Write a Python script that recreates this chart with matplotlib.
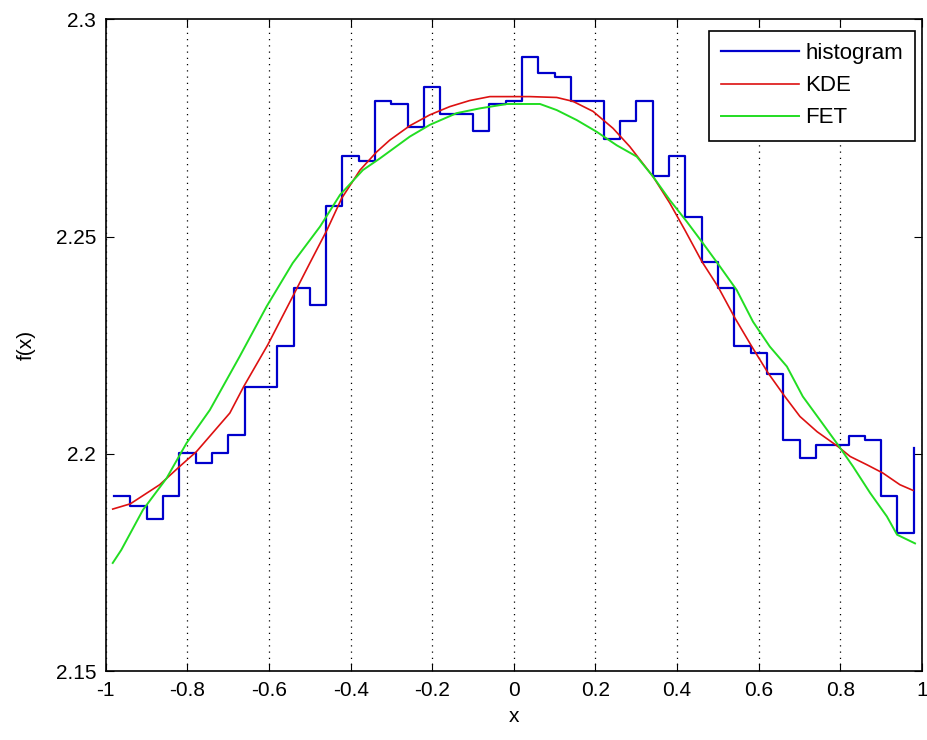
import matplotlib.pyplot as plt
import numpy as np

# histogram bin centres and heights (drawn as stairs, MATLAB style)
hist_x = np.round(np.arange(-0.98, 0.99, 0.04), 2)
hist_y = [2.1902, 2.1880, 2.1850, 2.1902, 2.2003, 2.1980, 2.2003, 2.2043, 2.2153, 2.2153,
          2.2248, 2.2381, 2.2342, 2.2571, 2.2686, 2.2673, 2.2813, 2.2804, 2.2751, 2.2843,
          2.2782, 2.2782, 2.2743, 2.2805, 2.2812, 2.2914, 2.2876, 2.2866, 2.2812, 2.2812,
          2.2725, 2.2765, 2.2813, 2.2640, 2.2686, 2.2546, 2.2442, 2.2381, 2.2249, 2.2232,
          2.2184, 2.2031, 2.1990, 2.2021, 2.2021, 2.2042, 2.2031, 2.1902, 2.1819, 2.2013]

kde_x = [-0.983, -0.94, -0.868, -0.819, -0.778, -0.696, -0.662, -0.603, -0.542, -0.50,
         -0.458, -0.422, -0.377, -0.336, -0.304, -0.255, -0.206, -0.157, -0.108, -0.059,
         -0.010, 0.039, 0.105, 0.145, 0.194, 0.243, 0.284, 0.341, 0.382, 0.419,
         0.461, 0.50, 0.542, 0.583, 0.623, 0.664, 0.701, 0.743, 0.794, 0.824,
         0.865, 0.904, 0.946, 0.978]
kde_y = [2.1873, 2.1885, 2.1929, 2.1971, 2.2005, 2.2094, 2.2155, 2.2251, 2.2362, 2.2439,
         2.2515, 2.2588, 2.2653, 2.2695, 2.2722, 2.2755, 2.2780, 2.2799, 2.2813, 2.2822,
         2.2822, 2.2822, 2.2820, 2.2811, 2.2788, 2.2749, 2.2707, 2.2638, 2.2577, 2.2515,
         2.2442, 2.2385, 2.2312, 2.2247, 2.2186, 2.2132, 2.2086, 2.2051, 2.2017, 2.1994,
         2.1975, 2.1956, 2.1929, 2.1916]

fet_x = [-0.983, -0.962, -0.909, -0.851, -0.802, -0.745, -0.672, -0.606, -0.542, -0.475,
         -0.426, -0.370, -0.328, -0.255, -0.206, -0.140, -0.083, -0.017, 0.064, 0.105,
         0.154, 0.203, 0.252, 0.301, 0.341, 0.382, 0.424, 0.463, 0.505, 0.546,
         0.586, 0.627, 0.669, 0.708, 0.750, 0.794, 0.831, 0.873, 0.914, 0.939, 0.983]
fet_y = [2.1749, 2.1779, 2.1871, 2.1944, 2.2025, 2.2101, 2.2224, 2.2339, 2.2439, 2.2523,
         2.2596, 2.2653, 2.2680, 2.2730, 2.2757, 2.2784, 2.2795, 2.2805, 2.2805, 2.2791,
         2.2768, 2.2741, 2.2710, 2.2684, 2.2638, 2.2584, 2.2534, 2.2485, 2.2431, 2.2377,
         2.2304, 2.2247, 2.2201, 2.2132, 2.2078, 2.2021, 2.1971, 2.1910, 2.1856, 2.1814, 2.1794]

xticks = [-1, -0.8, -0.6, -0.4, -0.2, 0, 0.2, 0.4, 0.6, 0.8, 1]
xtick_labels = ['-1', '-0.8', '-0.6', '-0.4', '-0.2', '0', '0.2', '0.4', '0.6', '0.8', '1']
yticks = [2.15, 2.2, 2.25, 2.3]
ytick_labels = ['2.15', '2.2', '2.25', '2.3']

plt.rcParams['font.family'] = ['Liberation Sans', 'DejaVu Sans']

fig = plt.figure(figsize=(9.28, 7.4), dpi=100)
ax = fig.add_axes([0.114, 0.093, 0.8795, 0.881])

ax.plot(hist_x, hist_y, drawstyle='steps-post', color='#0000cc', linewidth=1.6, label='histogram')
ax.plot(kde_x, kde_y, color='#dd1111', linewidth=1.2, label='KDE')
ax.plot(fet_x, fet_y, color='#22dd22', linewidth=1.4, label='FET')

ax.set_xlim(-1, 1)
ax.set_ylim(2.15, 2.3)
ax.set_xticks(xticks)
ax.set_xticklabels(xtick_labels)
ax.set_yticks(yticks)
ax.set_yticklabels(ytick_labels)
ax.tick_params(direction='in', top=True, right=True, length=6, labelsize=15, pad=7)
ax.xaxis.grid(True, linestyle=(0, (1, 4)), color='black', linewidth=0.9)
for s in ax.spines.values():
    s.set_linewidth(1.2)

ax.set_xlabel('x', fontsize=15, labelpad=5)
ax.set_ylabel('f(x)', fontsize=15, labelpad=14)

leg = ax.legend(loc='upper right', fontsize=16, fancybox=False, framealpha=1,
                edgecolor='black', handlelength=3.5, handletextpad=0.3, borderpad=0.55,
                labelspacing=0.5, borderaxespad=0, bbox_to_anchor=(0.992, 0.982))
leg.get_frame().set_linewidth(1.2)

plt.savefig('out.png', dpi=100)
plt.close()
